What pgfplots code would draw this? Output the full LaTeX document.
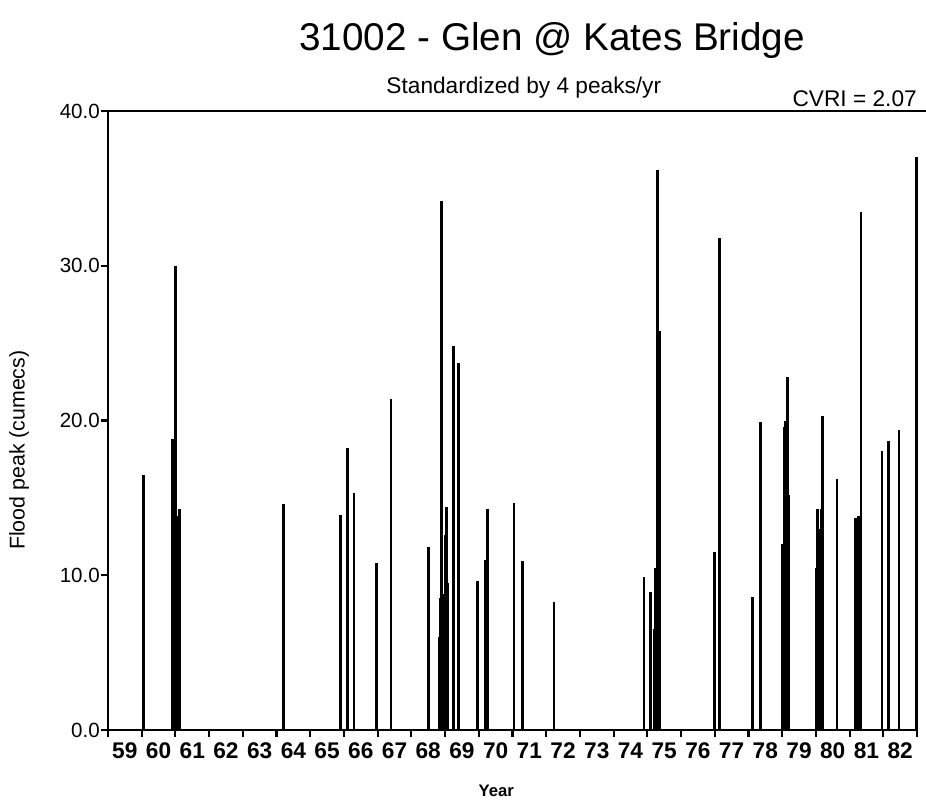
\documentclass[border=0pt]{standalone}
\usepackage{fontspec}
\setmainfont{Liberation Sans}
\usepackage{pgfplots}
\pgfplotsset{compat=1.18}
\usepackage{pgfplotstable}

\pgfplotstableread{
x y
60.05 16.5
60.92 18.8
60.94 18.5
60.95 9.5
60.97 12.0
60.99 5.0
61.00 30.0
61.02 7.0
61.05 3.0
61.08 13.8
61.12 14.3
64.20 14.6
65.90 13.9
66.10 18.2
66.30 15.3
66.97 10.8
67.40 21.4
68.50 11.8
68.82 6.0
68.85 8.5
68.88 9.0
68.90 34.2
68.93 8.8
68.97 7.5
69.02 12.6
69.05 14.4
69.08 9.5
69.25 24.8
69.40 23.7
69.97 9.6
70.20 11.0
70.25 14.3
71.04 14.7
71.29 10.9
72.23 8.3
74.90 9.9
75.09 8.9
75.22 6.5
75.25 10.5
75.30 36.2
75.32 13.0
75.34 23.0
75.36 25.8
76.99 11.5
77.14 31.8
78.11 8.6
78.36 19.9
79.00 12.0
79.03 8.0
79.05 19.6
79.08 5.0
79.10 20.0
79.12 12.8
79.15 22.8
79.20 15.2
80.00 10.5
80.03 7.0
80.05 14.3
80.08 11.0
80.10 13.0
80.15 14.3
80.20 20.3
80.63 16.2
81.18 13.7
81.26 13.8
81.34 33.5
81.96 18.0
82.15 18.7
82.47 19.4
82.99 37.0
}\peaks

\begin{document}
\begin{tikzpicture}
\begin{axis}[
  scale only axis,
  width=606.75pt, height=464.25pt,
  xmin=59, xmax=83, ymin=0, ymax=40,
  axis x line=bottom, axis y line=left,
  axis line style={-, line width=2pt, black},
  tick align=outside,
  major tick length=5pt,
  tick style={black, line width=1.6pt},
  xtick={59,...,83},
  x tick label as interval,
  xticklabels={59,60,61,62,63,64,65,66,67,68,69,70,71,72,73,74,75,76,77,78,79,80,81,82},
  xticklabel style={font=\fontsize{17}{19}\selectfont\bfseries, anchor=north,
    text height=12.5pt, text depth=0pt, inner ysep=3.5pt},
  ytick={0,10,20,30,40},
  yticklabel style={font=\fontsize{15.4}{18}\selectfont, inner xsep=1pt,
    /pgf/number format/.cd, fixed, fixed zerofill, precision=1},
  /pgf/number format/assume math mode=true,
  clip=false,
]
\addplot[ycomb, black, line width=2pt, mark=none] table[x=x, y=y] {\peaks};
\draw[line width=2pt] (rel axis cs:0,1) -- (rel axis cs:1.016,1);
\coordinate (o) at (rel axis cs:0,0);
\node[anchor=base, font=\fontsize{29}{34}\selectfont] at (rel axis cs:0.549,1.0985) {31002 - Glen @ Kates Bridge};
\node[anchor=base, font=\fontsize{17}{20}\selectfont] at (rel axis cs:0.514,1.0275) {Standardized by 4 peaks/yr};
\node[anchor=base east, font=\fontsize{17}{20}\selectfont, inner xsep=0pt] at (rel axis cs:1.0,1.008) {CVRI = 2.07};
\node[anchor=base, font=\fontsize{12.5}{15}\selectfont\bfseries] at (rel axis cs:0.48,-0.108) {Year};
\node[anchor=center, rotate=90, font=\fontsize{16}{19}\selectfont] at (rel axis cs:-0.11,0.452) {Flood peak (cumecs)};
\end{axis}
\pgfresetboundingbox
\path (o) ++(-81pt,-53.25pt) rectangle ++(694.5pt,600.75pt);
\end{tikzpicture}
\end{document}
